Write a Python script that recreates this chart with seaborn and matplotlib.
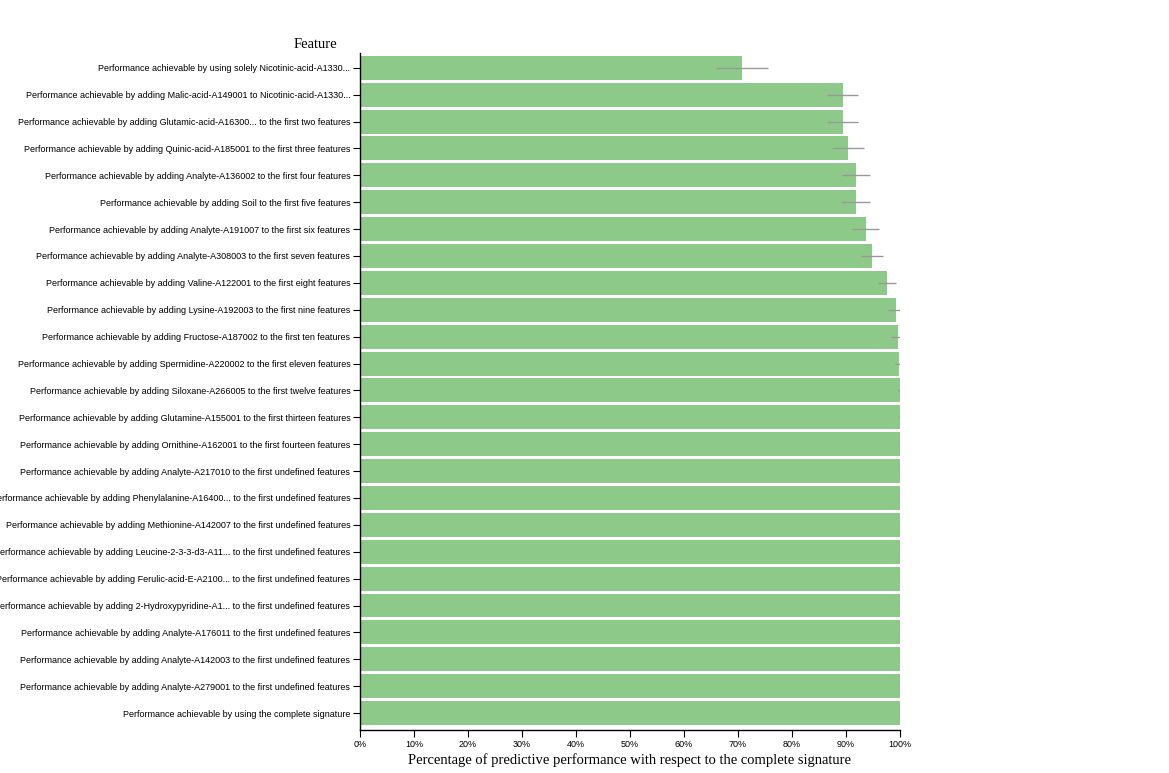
import numpy as np
import pandas as pd
import matplotlib
matplotlib.use("Agg")
import matplotlib.pyplot as plt
import seaborn as sns
from matplotlib.ticker import PercentFormatter, MultipleLocator

# feature labels, top to bottom
features = [
    "Performance achievable by using solely Nicotinic-acid-A1330...",
    "Performance achievable by adding Malic-acid-A149001 to Nicotinic-acid-A1330...",
    "Performance achievable by adding Glutamic-acid-A16300... to the first two features",
    "Performance achievable by adding Quinic-acid-A185001 to the first three features",
    "Performance achievable by adding Analyte-A136002 to the first four features",
    "Performance achievable by adding Soil to the first five features",
    "Performance achievable by adding Analyte-A191007 to the first six features",
    "Performance achievable by adding Analyte-A308003 to the first seven features",
    "Performance achievable by adding Valine-A122001 to the first eight features",
    "Performance achievable by adding Lysine-A192003 to the first nine features",
    "Performance achievable by adding Fructose-A187002 to the first ten features",
    "Performance achievable by adding Spermidine-A220002 to the first eleven features",
    "Performance achievable by adding Siloxane-A266005 to the first twelve features",
    "Performance achievable by adding Glutamine-A155001 to the first thirteen features",
    "Performance achievable by adding Ornithine-A162001 to the first fourteen features",
    "Performance achievable by adding Analyte-A217010 to the first undefined features",
    "Performance achievable by adding Phenylalanine-A16400... to the first undefined features",
    "Performance achievable by adding Methionine-A142007 to the first undefined features",
    "Performance achievable by adding Leucine-2-3-3-d3-A11... to the first undefined features",
    "Performance achievable by adding Ferulic-acid-E-A2100... to the first undefined features",
    "Performance achievable by adding 2-Hydroxypyridine-A1... to the first undefined features",
    "Performance achievable by adding Analyte-A176011 to the first undefined features",
    "Performance achievable by adding Analyte-A142003 to the first undefined features",
    "Performance achievable by adding Analyte-A279001 to the first undefined features",
    "Performance achievable by using the complete signature",
]

# relative performance (fraction of complete signature)
performance = [0.707, 0.894, 0.894, 0.904, 0.919, 0.919, 0.937, 0.948, 0.976, 0.993,
               0.996, 0.998, 1.0, 1.0, 1.0, 1.0, 1.0, 1.0, 1.0, 1.0,
               1.0, 1.0, 1.0, 1.0, 1.0]

# standard deviation shown as error bar
spread = [0.048, 0.029, 0.029, 0.029, 0.026, 0.026, 0.025, 0.021, 0.017, 0.015,
          0.012, 0.008, 0.005, 0.003, 0.002, 0.002, 0.002, 0.002, 0.002, 0.002,
          0.002, 0.002, 0.002, 0.002, 0.0]

df = pd.DataFrame({"feature": features, "perf": performance, "sd": spread})

fig = plt.figure(figsize=(11.69, 7.73), dpi=100)
ax = fig.add_axes([360 / 1169, 1 - 730 / 773, 540 / 1169, 677 / 773])

sns.barplot(data=df, x="perf", y="feature", orient="h", color="#8dca8a",
            saturation=1, width=0.89, errorbar=None, ax=ax)
ax.errorbar(df["perf"], np.arange(len(df)), xerr=df["sd"], fmt="none",
            ecolor="#999999", elinewidth=1, capsize=0, zorder=3)

ax.set_xlim(0, 1)
ax.set_ylim(24.63, -0.55)
ax.xaxis.set_major_locator(MultipleLocator(0.1))
ax.xaxis.set_major_formatter(PercentFormatter(1.0, decimals=0))

for s in ["top", "right"]:
    ax.spines[s].set_visible(False)
for s in ["left", "bottom"]:
    ax.spines[s].set_color("black")
    ax.spines[s].set_linewidth(1)

ax.tick_params(axis="both", labelsize=6.5, length=5, width=0.8, color="black", pad=2)
for lbl in ax.get_xticklabels() + ax.get_yticklabels():
    lbl.set_fontfamily("Liberation Sans")

ax.set_xlabel("Percentage of predictive performance with respect to the complete signature",
              fontfamily="Liberation Serif", fontsize=10.5, labelpad=3)
ax.set_ylabel("Feature", rotation=0, fontfamily="Liberation Serif", fontsize=10.5)
ax.yaxis.set_label_coords(-0.083, (730 - 45) / 677)
ax.yaxis.label.set_va("center")

fig.savefig("out.png", dpi=100)
